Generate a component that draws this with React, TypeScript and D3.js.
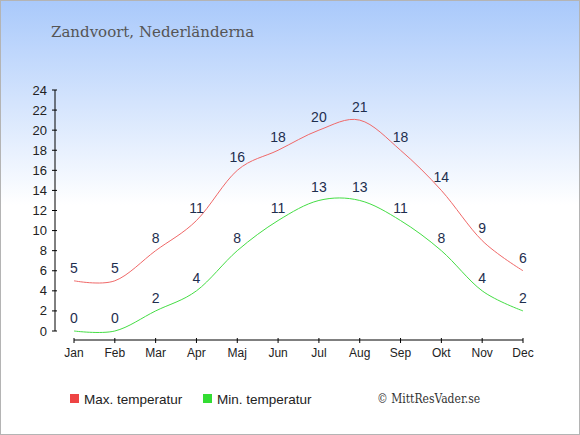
import * as d3 from 'd3';
import * as React from 'react';

const months = ['Jan', 'Feb', 'Mar', 'Apr', 'Maj', 'Jun', 'Jul', 'Aug', 'Sep', 'Okt', 'Nov', 'Dec'];
const maxTemp = [5, 5, 8, 11, 16, 18, 20, 21, 18, 14, 9, 6];
const minTemp = [0, 0, 2, 4, 8, 11, 13, 13, 11, 8, 4, 2];
const yTicks = [0, 2, 4, 6, 8, 10, 12, 14, 16, 18, 20, 22, 24];

const width = 580;
const height = 435;
const sansFont = '"Liberation Sans", Arial, sans-serif';
const serifFont = '"DejaVu Serif", Georgia, serif';

/**
 * Monthly temperature chart
 */
export default function App() {
    const x = d3.scalePoint<string>().domain(months).range([74, 523]);
    const y = d3.scaleLinear().domain([0, 24]).range([331, 90]);

    const line = d3.line<number>()
        .x((_, i) => x(months[i]) as number)
        .y(d => y(d))
        .curve(d3.curveCardinal.tension(0));

    const series = [
        { name: 'Max. temperatur', values: maxTemp, line: '#f06868', box: '#ee4444' },
        { name: 'Min. temperatur', values: minTemp, line: '#44dd44', box: '#33dd33' },
    ];

    return (
        <div style={{ position: 'absolute', left: 0, top: 0 }}>
            <svg width={width} height={height} style={{ display: 'block' }}>
                <defs>
                    <linearGradient id="bg" x1="0" y1="0" x2="0" y2="1">
                        <stop offset="0" stopColor="#a9c9fb" />
                        <stop offset="1" stopColor="#ffffff" />
                    </linearGradient>
                </defs>
                <rect x={0} y={0} width={width} height={205} fill="url(#bg)" />
                <rect x={0} y={205} width={width} height={height - 205} fill="#ffffff" />
                <rect x={0.5} y={0.5} width={width - 1} height={height - 1} fill="none" stroke="#b4b4b4" />

                <text x={51} y={37} fontFamily={serifFont} fontSize={15} fill="#555555">
                    Zandvoort, Nederländerna
                </text>

                {/* y axis */}
                <line x1={55} x2={55} y1={y(24)} y2={y(0)} stroke="#000" />
                {yTicks.map(t => (
                    <g key={t}>
                        <line x1={52} x2={57} y1={y(t)} y2={y(t)} stroke="#000" />
                        <text x={47} y={y(t) + 4.5} textAnchor="end" fontFamily={sansFont}
                            fontSize={13} fill="#222">{t}</text>
                    </g>
                ))}

                {/* x axis */}
                <line x1={x('Jan')} x2={x('Dec')} y1={340} y2={340} stroke="#000" />
                {months.map(m => (
                    <g key={m}>
                        <line x1={x(m)} x2={x(m)} y1={338} y2={343} stroke="#000" />
                        <text x={x(m)} y={357} textAnchor="middle" fontFamily={sansFont}
                            fontSize={12} fill="#222">{m}</text>
                    </g>
                ))}

                {series.map(s => (
                    <g key={s.name}>
                        <path d={line(s.values) || ''} fill="none" stroke={s.line} strokeWidth={1} />
                        {s.values.map((v, i) => (
                            <text key={i} x={x(months[i])} y={y(v) - 8} textAnchor="middle"
                                fontFamily={sansFont} fontSize={14} fill="#1e2e4e">{v}</text>
                        ))}
                    </g>
                ))}

                {/* legend */}
                {series.map((s, i) => (
                    <g key={s.name} transform={`translate(${70 + i * 133},394)`}>
                        <rect x={0} y={0} width={9} height={9} fill={s.box} />
                        <text x={14} y={9.5} fontFamily={sansFont} fontSize={13.5} fill="#222">{s.name}</text>
                    </g>
                ))}
                <text x={377} y={403} fontFamily={'"DejaVu Serif Condensed", "Liberation Serif", serif'}
                    fontSize={12} fill="#333">© MittResVader.se</text>
            </svg>
        </div>
    );
}
